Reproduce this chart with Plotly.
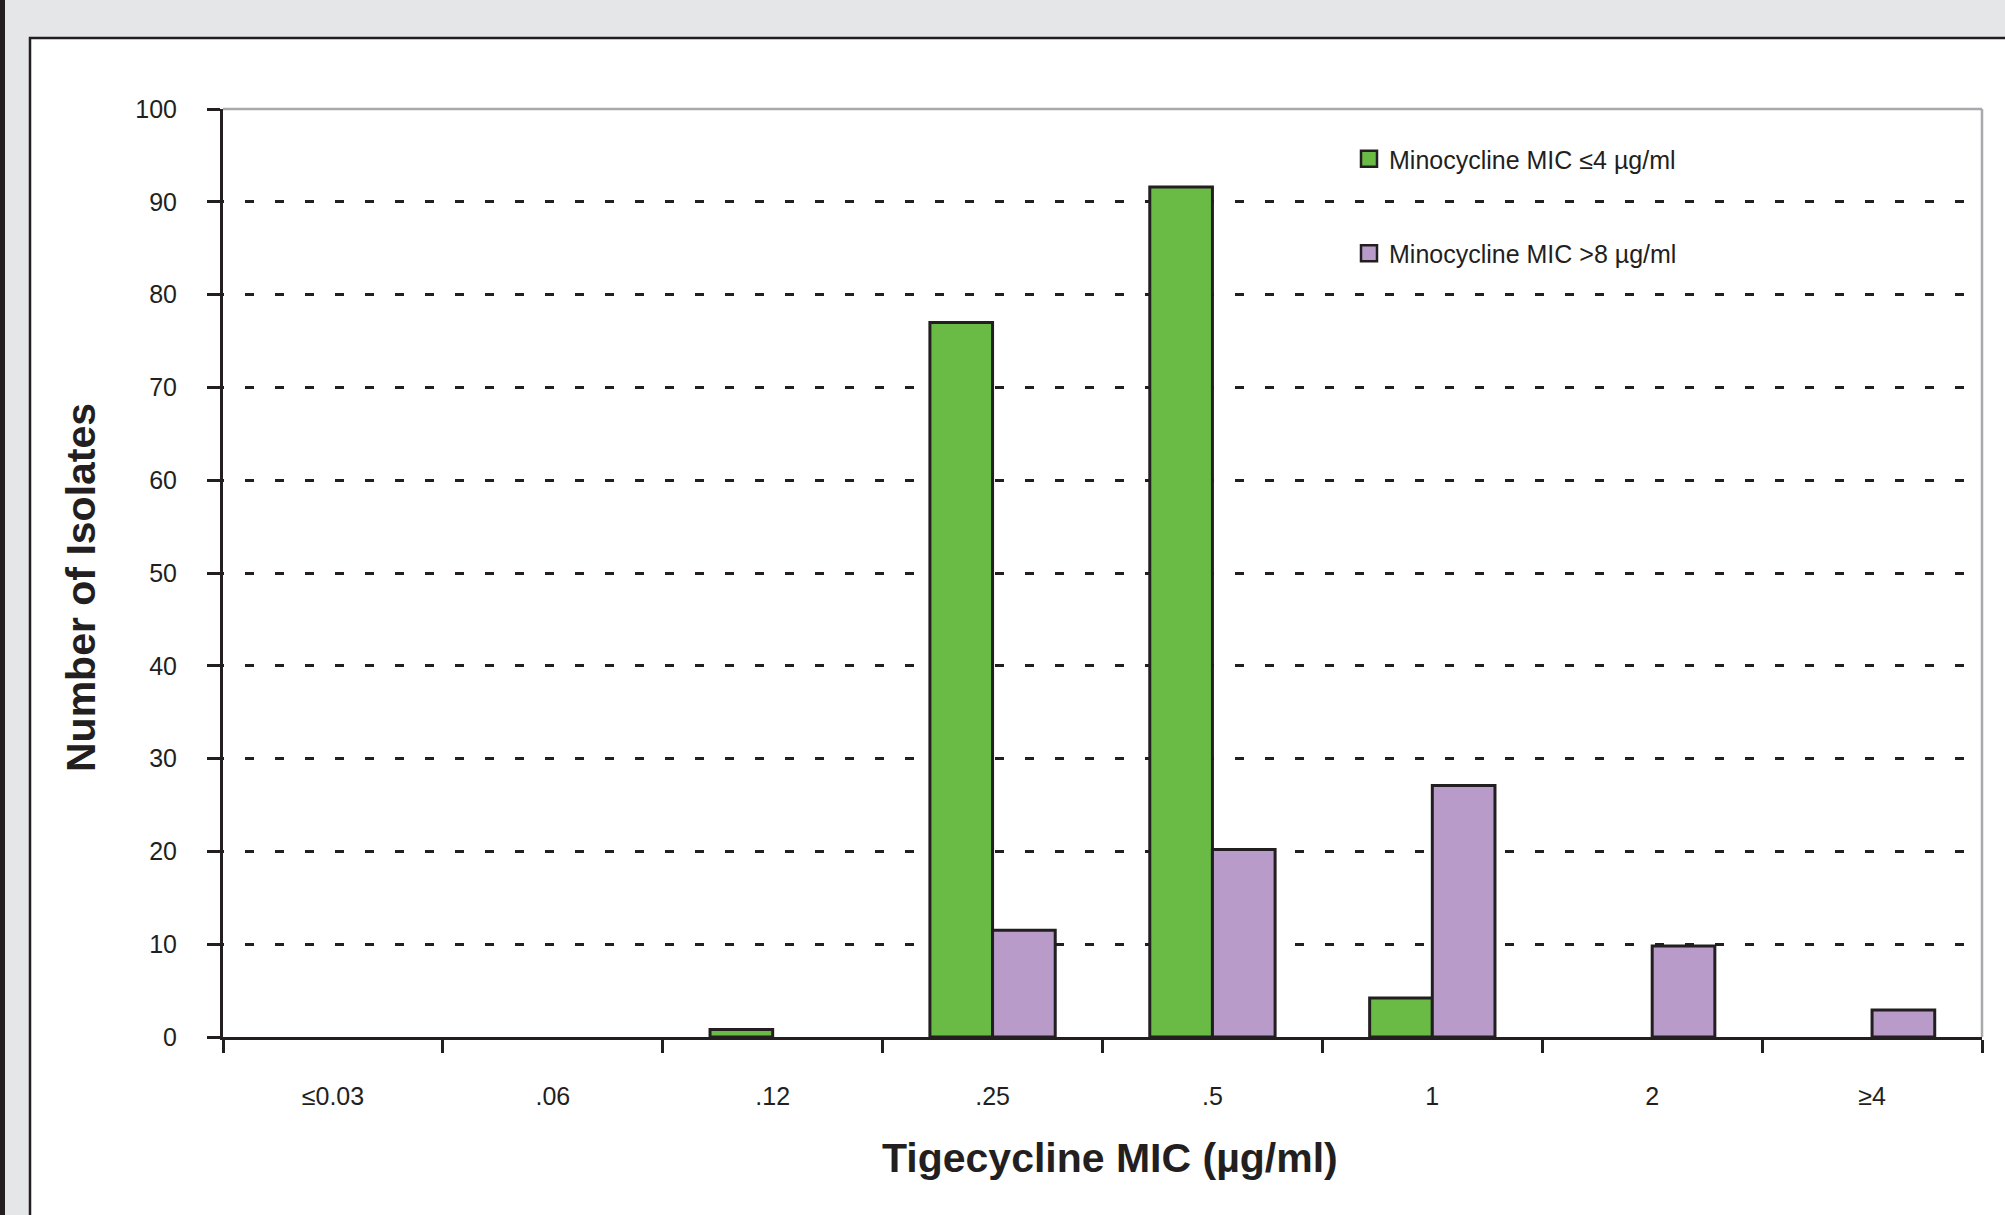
import plotly.graph_objects as go

categories = ["≤0.03", ".06", ".12", ".25", ".5", "1", "2", "≥4"]
mino_le4 = [0, 0, 0.8, 77, 91.6, 4.2, 0, 0]
mino_gt8 = [0, 0, 0, 11.5, 20.2, 27.1, 9.8, 2.9]
series_names = ["Minocycline MIC ≤4 µg/ml", "Minocycline MIC >8 µg/ml"]
series_colors = ["#6abb45", "#b89bc9"]
y_ticks = list(range(0, 101, 10))

W, H = 2005, 1215
L, R, T, B = 223, 23, 109, 178
PW, PH = W - L - R, H - T - B
DARK = "#231f20"
FONT = "Liberation Sans, Arial, Helvetica, sans-serif"


def px2x(px):
    return (px - L) / PW


def py2y(py):
    return (H - B - py) / PH


def outline_widths(values):
    return [3 if v > 0 else 0 for v in values]


fig = go.Figure()
for name, vals, col, grp in zip(series_names, [mino_le4, mino_gt8],
                                series_colors, ["a", "b"]):
    fig.add_trace(go.Bar(
        x=categories, y=vals, name=name, legendgroup=grp, showlegend=False,
        marker=dict(color=col, line=dict(color=DARK, width=outline_widths(vals))),
    ))

# legend entries (larger outlined squares, like the reference key)
for name, col, grp in zip(series_names, series_colors, ["a", "b"]):
    fig.add_trace(go.Scatter(
        x=[None], y=[None], mode="markers", name=name, legendgroup=grp,
        marker=dict(symbol="square", size=16, color=col,
                    line=dict(color=DARK, width=2.5)),
    ))

shapes = [
    # white panel
    dict(type="rect", xref="paper", yref="paper", x0=px2x(30), x1=px2x(W + 10),
         y0=py2y(H + 10), y1=py2y(38), fillcolor="white",
         line=dict(color=DARK, width=2.5), layer="below"),
    # left dark stripe
    dict(type="rect", xref="paper", yref="paper", x0=px2x(-2), x1=px2x(5),
         y0=py2y(H + 10), y1=py2y(-10), fillcolor=DARK, line=dict(width=0),
         layer="below"),
    # top and right grey frame of plot
    dict(type="line", xref="paper", yref="paper", x0=0, x1=1, y0=1, y1=1,
         line=dict(color="#a7a9ac", width=2.5)),
    dict(type="line", xref="paper", yref="paper", x0=1, x1=1, y0=0, y1=1,
         line=dict(color="#a7a9ac", width=2.5)),
]

annotations = [
    dict(text="<b>Number of Isolates</b>", xref="paper", yref="paper",
         x=px2x(81), y=py2y(588), textangle=-90, showarrow=False,
         xanchor="center", yanchor="middle",
         font=dict(size=41, color=DARK, family=FONT)),
    dict(text="<b>Tigecycline MIC (µg/ml)</b>", xref="paper", yref="paper",
         x=px2x(1110), y=py2y(1158), showarrow=False,
         xanchor="center", yanchor="middle",
         font=dict(size=41, color=DARK, family=FONT)),
]

fig.update_layout(
    width=W, height=H,
    margin=dict(l=L, r=R, t=T, b=B, autoexpand=False),
    paper_bgcolor="#e5e6e8",
    plot_bgcolor="white",
    barmode="group", bargap=0.43, bargroupgap=0,
    font=dict(family=FONT, color=DARK, size=24),
    shapes=shapes,
    annotations=annotations,
    legend=dict(
        x=px2x(1349), y=py2y(136), xanchor="left", yanchor="top",
        bgcolor="rgba(0,0,0,0)", font=dict(size=25, color=DARK, family=FONT),
        tracegroupgap=59, traceorder="grouped", itemsizing="trace",
    ),
    xaxis=dict(
        type="category", showgrid=False, showline=True, linecolor=DARK,
        linewidth=2.5, ticks="outside", tickson="boundaries", ticklen=13,
        tickwidth=3, tickcolor=DARK, ticklabelstandoff=35,
        tickfont=dict(size=25, color=DARK, family=FONT), zeroline=False,
    ),
    yaxis=dict(
        range=[0, 100], tickvals=y_ticks, showline=True, linecolor=DARK,
        linewidth=3, ticks="outside", ticklen=13, tickwidth=3, tickcolor=DARK,
        ticklabelstandoff=25, tickfont=dict(size=25, color=DARK, family=FONT),
        showgrid=True, gridcolor=DARK, gridwidth=3, griddash="1px,21px,8px,0px",
        zeroline=False,
    ),
)

fig.write_html(
    "out.html",
    config={"displayModeBar": False},
    post_script="document.body.style.margin='0';document.body.style.overflow='hidden';",
)
